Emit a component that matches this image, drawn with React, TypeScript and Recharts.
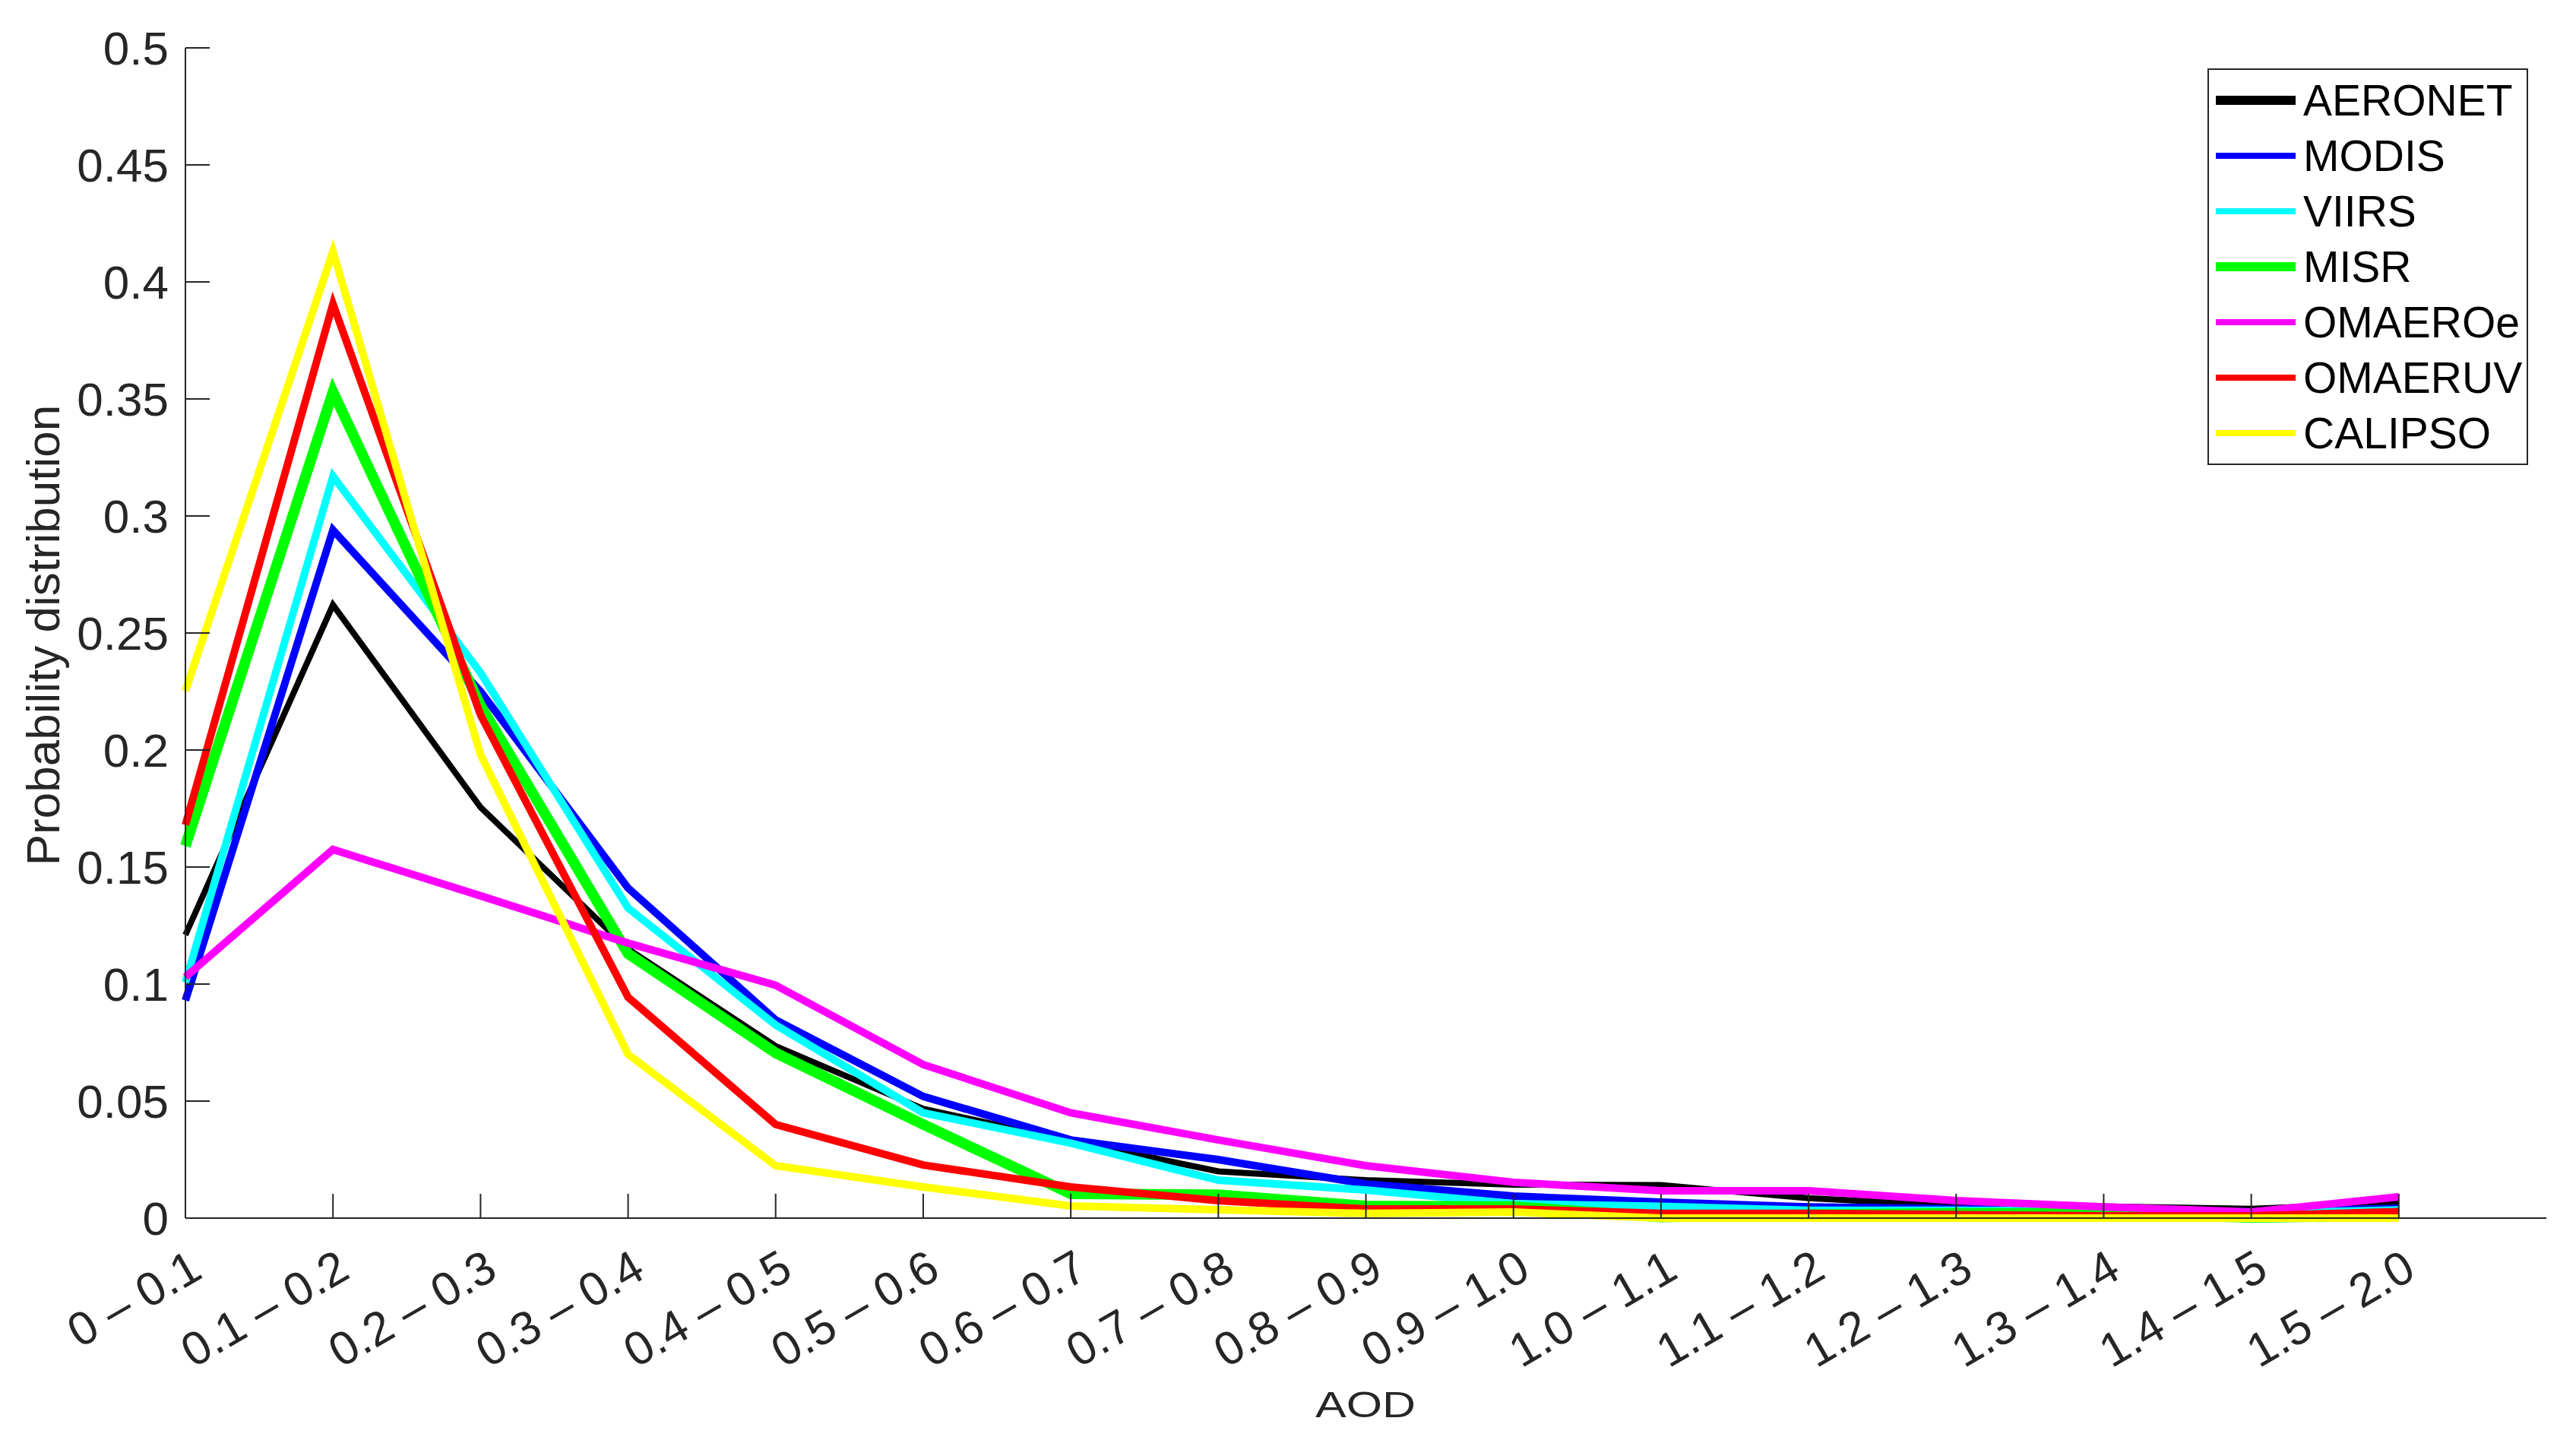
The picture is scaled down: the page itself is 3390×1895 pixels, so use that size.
import React from "react";
import { LineChart, Line, XAxis, YAxis, Legend } from "recharts";

// ─── Data ────────────────────────────────────────────────────────────────────

const categories = [
  "0 – 0.1", "0.1 – 0.2", "0.2 – 0.3", "0.3 – 0.4", "0.4 – 0.5", "0.5 – 0.6",
  "0.6 – 0.7", "0.7 – 0.8", "0.8 – 0.9", "0.9 – 1.0", "1.0 – 1.1", "1.1 – 1.2",
  "1.2 – 1.3", "1.3 – 1.4", "1.4 – 1.5", "1.5 – 2.0",
];

const aeronet = [0.121, 0.262, 0.1755, 0.115, 0.0735, 0.0467, 0.033, 0.02, 0.0162, 0.0143, 0.0141, 0.0085, 0.0053, 0.005, 0.004, 0.0065];
const modis = [0.093, 0.294, 0.225, 0.141, 0.0847, 0.052, 0.0334, 0.025, 0.0146, 0.0094, 0.0068, 0.0048, 0.004, 0.0035, 0.0026, 0.0042];
const viirs = [0.1007, 0.317, 0.233, 0.1325, 0.0825, 0.045, 0.032, 0.0162, 0.012, 0.0062, 0.005, 0.0033, 0.0033, 0.003, 0.002, 0.0035];
const misr = [0.159, 0.353, 0.219, 0.113, 0.0706, 0.04, 0.0104, 0.01, 0.0052, 0.0049, 0.0005, 0.0015, 0.002, 0.002, 0.0003, 0.001];
const omaeroe = [0.103, 0.1575, 0.1377, 0.1175, 0.0995, 0.0656, 0.045, 0.0334, 0.0224, 0.0153, 0.0117, 0.0117, 0.0075, 0.0048, 0.0026, 0.0091];
const omaeruv = [0.168, 0.3906, 0.215, 0.0944, 0.04, 0.0227, 0.0133, 0.0075, 0.0039, 0.0039, 0.002, 0.002, 0.0015, 0.001, 0.001, 0.0028];
const calipso = [0.2253, 0.413, 0.198, 0.07, 0.0224, 0.0133, 0.0052, 0.0036, 0.002, 0.0026, 0.0, 0.0, 0.0, 0.0, 0.0, 0.0];

const yTicks = [0, 0.05, 0.1, 0.15, 0.2, 0.25, 0.3, 0.35, 0.4, 0.45, 0.5];
const xTicks = categories.map((_, i) => i);

const series = [
  { key: "AERONET", values: aeronet, color: "#000000", width: 8, legendWidth: 12 },
  { key: "MODIS", values: modis, color: "#0000FF", width: 10, legendWidth: 8 },
  { key: "VIIRS", values: viirs, color: "#00FFFF", width: 10, legendWidth: 8 },
  { key: "MISR", values: misr, color: "#00FF00", width: 14, legendWidth: 12 },
  { key: "OMAEROe", values: omaeroe, color: "#FF00FF", width: 10, legendWidth: 8 },
  { key: "OMAERUV", values: omaeruv, color: "#FF0000", width: 10, legendWidth: 8 },
  { key: "CALIPSO", values: calipso, color: "#FFFF00", width: 10, legendWidth: 8 },
];

const rows = categories.map((label, i) => {
  const row: { [k: string]: string | number } = { idx: i, label };
  series.forEach((s) => (row[s.key] = s.values[i]));
  return row;
});

// ─── Layout ──────────────────────────────────────────────────────────────────

const W = 3390;
const H = 1895;
const FONT = "Arial, 'Liberation Sans', sans-serif";
const INK = "#262626";

function YTick({ x, y, payload }: any) {
  return (
    <g>
      <line x1={x} x2={x + 32} y1={y} y2={y} stroke={INK} strokeWidth={2} />
      <text x={x - 22} y={y + 22} textAnchor="end" fontSize={62} fill={INK} fontFamily={FONT}>
        {payload.value}
      </text>
    </g>
  );
}

function XTick({ x, y, payload }: any) {
  const tx = x + 25;
  const ty = y + 77;
  return (
    <g>
      <line x1={x} x2={x} y1={y} y2={y - 32} stroke={INK} strokeWidth={2} />
      <text
        x={tx}
        y={ty}
        textAnchor="end"
        fontSize={62}
        fill={INK}
        fontFamily={FONT}
        transform={`rotate(-30 ${tx} ${ty})`}
      >
        {categories[payload.value]}
      </text>
    </g>
  );
}

// legend keeps the plotting order, not the alphabetical one
function LegendBox({ payload }: any) {
  const byName: { [k: string]: any } = {};
  (payload || []).forEach((p: any) => (byName[p.value] = p));
  const items = series.filter((s) => byName[s.key]);
  return (
    <svg width={422} height={522} style={{ display: "block" }}>
      <rect x={1} y={1} width={420} height={520} fill="#fff" stroke={INK} strokeWidth={2} />
      {items.map((s, i) => {
        const cy = 42 + i * 73;
        return (
          <g key={s.key}>
            <line x1={11} x2={116} y1={cy} y2={cy} stroke={byName[s.key].color} strokeWidth={s.legendWidth} />
            <text x={126} y={cy + 20} fontSize={57} fill="#000" fontFamily={FONT}>
              {s.key}
            </text>
          </g>
        );
      })}
    </svg>
  );
}

export default function App() {
  return (
    <div style={{ width: W, height: H, background: "#fff", position: "relative" }}>
      <style>{`body{margin:0}`}</style>
      <LineChart width={W} height={H} data={rows} margin={{ top: 63, right: 39, bottom: 92, left: 64 }}>
        <XAxis
          dataKey="idx"
          type="number"
          domain={[0, 16]}
          ticks={xTicks}
          interval={0}
          height={200}
          tickSize={0}
          tickMargin={0}
          tickLine={false}
          axisLine={{ stroke: INK, strokeWidth: 2 }}
          tick={<XTick />}
          label={{
            content: () => (
              <text
                x={1797}
                y={1865}
                textAnchor="middle"
                fontSize={48}
                fill={INK}
                fontFamily={FONT}
                textLength={132}
                lengthAdjust="spacingAndGlyphs"
              >
                AOD
              </text>
            ),
          }}
        />
        <YAxis
          type="number"
          domain={[0, 0.5]}
          ticks={yTicks}
          interval={0}
          width={180}
          tickSize={0}
          tickMargin={0}
          tickLine={false}
          axisLine={{ stroke: INK, strokeWidth: 2 }}
          tick={<YTick />}
          label={{
            content: () => (
              <text
                x={78}
                y={836}
                textAnchor="middle"
                fontSize={62}
                fill={INK}
                fontFamily={FONT}
                transform="rotate(-90 78 836)"
              >
                Probability distribution
              </text>
            ),
          }}
        />
        <Legend
          layout="vertical"
          align="center"
          verticalAlign="middle"
          content={<LegendBox />}
          wrapperStyle={{ left: 2905, top: 90, width: 422, height: 522 }}
        />
        {series.map((s) => (
          <Line
            key={s.key}
            dataKey={s.key}
            stroke={s.color}
            strokeWidth={s.width}
            dot={false}
            activeDot={false}
            type="linear"
            isAnimationActive={false}
          />
        ))}
      </LineChart>
    </div>
  );
}
